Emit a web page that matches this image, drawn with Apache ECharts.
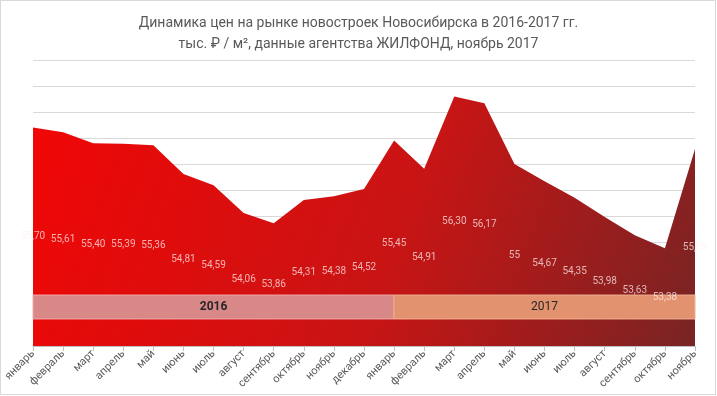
<!DOCTYPE html>
<html><head><meta charset="utf-8">
<script src="https://cdn.jsdelivr.net/npm/echarts@6/dist/echarts.min.js"></script>
<style>
html,body{margin:0;padding:0;background:#fff}
#c{width:717px;height:396px;position:absolute;left:0;top:0}
#f{position:absolute;left:0;top:0;width:716px;height:395px;box-sizing:border-box;border:1px solid #d9d9d9;pointer-events:none}
</style>
</head><body><div id="c"></div><div id="f"></div>
<script>
const titleLine1 = 'Динамика цен на рынке новостроек Новосибирска в 2016-2017 гг.';
const titleLine2 = 'тыс. ₽ / м², данные агентства ЖИЛФОНД, ноябрь 2017';
const months2016 = ['январь','февраль','март','апрель','май','июнь','июль','август','сентябрь','октябрь','ноябрь','декабрь'];
const months2017 = ['январь','февраль','март','апрель','май','июнь','июль','август','сентябрь','октябрь','ноябрь'];
const values2016 = [55.70, 55.61, 55.40, 55.39, 55.36, 54.81, 54.59, 54.06, 53.86, 54.31, 54.38, 54.52];
const values2017 = [55.45, 54.91, 56.30, 56.17, 55, 54.67, 54.35, 53.98, 53.63, 53.38, 55.29];
const years = ['2016', '2017'];

const categories = months2016.concat(months2017);
const allValues = values2016.concat(values2017);
const fmt = v => Number.isInteger(v) ? String(v) : v.toFixed(2).replace('.', ',');

const chart = echarts.init(document.getElementById('c'), null, {renderer: 'canvas'});
const FONT = 'Roboto';
const bandLo = 52.02, bandHi = 52.48;
chart.setOption({
  animation: false,
  backgroundColor: '#ffffff',
  title: {
    text: titleLine1 + '\n' + titleLine2,
    left: 'center', top: 8,
    textStyle: {fontFamily: FONT, fontSize: 14, fontWeight: 'normal', color: '#595959', lineHeight: 21}
  },
  grid: {left: 33, right: 22, top: 60, bottom: 50, containLabel: false},
  xAxis: {
    type: 'category', boundaryGap: false, data: categories,
    axisLine: {lineStyle: {color: '#bfbfbf', width: 1}},
    axisTick: {show: true, interval: 0, length: 5, lineStyle: {color: '#bfbfbf'}},
    axisLabel: {interval: 0, rotate: 45, margin: 6, color: '#595959', fontFamily: FONT, fontSize: 11},
    splitLine: {show: false}
  },
  yAxis: [
    {type: 'value', min: 51.5, max: 57, interval: 0.5,
     axisLabel: {show: false}, axisLine: {show: false}, axisTick: {show: false},
     splitLine: {lineStyle: {color: '#d9d9d9', width: 1}}},
    {type: 'value', min: 51.5, max: 62.5, show: false, splitLine: {show: false}}
  ],
  series: [
    {
      type: 'line', data: allValues, symbol: 'none', z: 2,
      lineStyle: {width: 0},
      areaStyle: {
        opacity: 1,
        color: new echarts.graphic.LinearGradient(0, 0, 1, 1, [
          {offset: 0, color: '#f20606'},
          {offset: 0.55, color: '#c91414'},
          {offset: 1, color: '#782424'}
        ])
      },
      markArea: {
        z: 5, silent: true,
        data: [
          [{xAxis: 0, yAxis: bandLo, name: years[0],
            itemStyle: {color: '#d98888', borderColor: '#f0a8a8', borderWidth: 1},
            label: {fontWeight: 'bold'}},
           {xAxis: months2016.length, yAxis: bandHi}],
          [{xAxis: months2016.length, yAxis: bandLo, name: years[1],
            itemStyle: {color: '#e2926f', borderColor: '#f0b090', borderWidth: 1},
            label: {fontWeight: 'normal'}},
           {xAxis: categories.length - 1, yAxis: bandHi}]
        ],
        label: {show: true, position: 'inside', color: '#262626', fontFamily: FONT, fontSize: 12}
      }
    },
    {
      type: 'scatter', yAxisIndex: 1, data: allValues, symbol: 'circle', symbolSize: 1, z: 10, silent: true,
      itemStyle: {color: 'rgba(0,0,0,0)'},
      label: {show: true, position: 'inside', formatter: p => fmt(p.value),
              color: 'rgba(255,240,240,0.9)', fontFamily: FONT, fontSize: 10}
    }
  ]
});
</script>
</body></html>
